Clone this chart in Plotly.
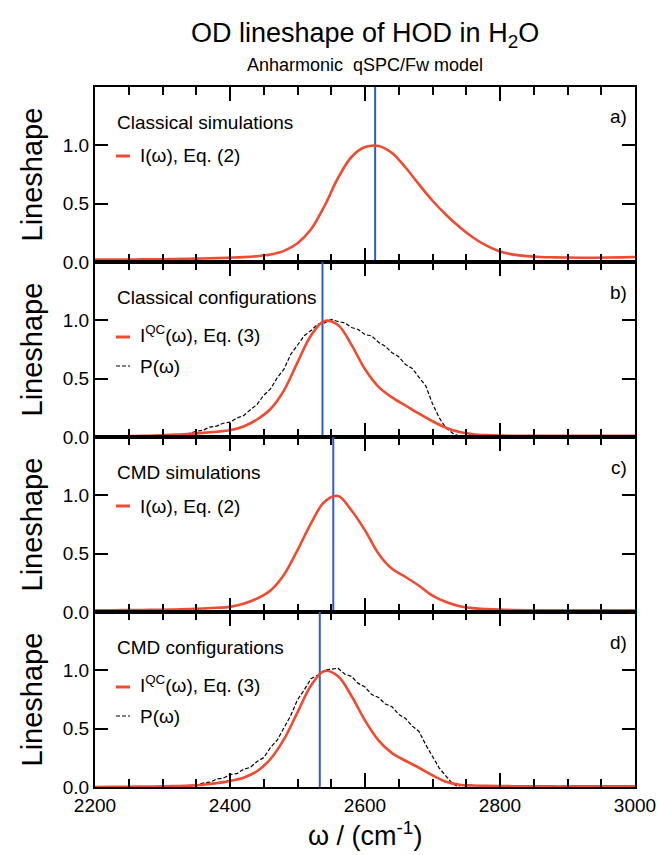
import plotly.graph_objects as go
from plotly.subplots import make_subplots

# ---------------- data ----------------
w_grid = [2200 + 20 * k for k in range(41)]  # 2200 ... 3000 cm-1

# panel a) classical simulations, I(w)
a_y = [0.020, 0.020, 0.021, 0.022, 0.023, 0.024, 0.026, 0.028, 0.030, 0.033, 0.037,
       0.042, 0.050, 0.064, 0.095, 0.160, 0.280, 0.480, 0.720, 0.900, 0.985, 0.995,
       0.935, 0.810, 0.665, 0.525, 0.405, 0.300, 0.210, 0.140, 0.090, 0.063, 0.050,
       0.043, 0.040, 0.038, 0.037, 0.037, 0.038, 0.040, 0.043]

# panel b) classical configurations, I^QC(w)
b_y = [0.005, 0.006, 0.007, 0.009, 0.011, 0.015, 0.020, 0.027, 0.035, 0.045, 0.058,
       0.090, 0.150, 0.240, 0.400, 0.640, 0.870, 0.995, 0.960, 0.790, 0.580, 0.430,
       0.340, 0.270, 0.200, 0.135, 0.080, 0.042, 0.024, 0.016, 0.012, 0.011, 0.010,
       0.010, 0.010, 0.010, 0.010, 0.010, 0.010, 0.010, 0.010]

# panel c) CMD simulations, I(w)
c_y = [0.014, 0.015, 0.016, 0.017, 0.018, 0.019, 0.022, 0.025, 0.030, 0.036, 0.044,
       0.070, 0.115, 0.185, 0.320, 0.530, 0.760, 0.945, 0.995, 0.870, 0.700, 0.500,
       0.370, 0.300, 0.225, 0.140, 0.085, 0.050, 0.033, 0.025, 0.020, 0.017, 0.015,
       0.015, 0.015, 0.015, 0.015, 0.015, 0.015, 0.015, 0.015]

# panel d) CMD configurations, I^QC(w)
d_y = [0.000, 0.001, 0.002, 0.003, 0.004, 0.005, 0.008, 0.012, 0.020, 0.033, 0.052,
       0.080, 0.135, 0.240, 0.410, 0.640, 0.870, 0.995, 0.950, 0.780, 0.570, 0.400,
       0.290, 0.225, 0.165, 0.100, 0.045, 0.020, 0.013, 0.010, 0.008, 0.007, 0.006,
       0.006, 0.005, 0.005, 0.005, 0.005, 0.005, 0.005, 0.005]

# panel b) P(w)
pb_x = [2300, 2310, 2320, 2330, 2340, 2350, 2360, 2370, 2380, 2390, 2400, 2410, 2420, 2430,
        2440, 2450, 2460, 2470, 2480, 2490, 2500, 2510, 2520, 2530, 2540, 2550, 2560, 2570,
        2580, 2590, 2600, 2610, 2620, 2630, 2640, 2650, 2660, 2670, 2680, 2690, 2700, 2710,
        2720, 2730, 2740, 2750]
pb_y = [0.004, 0.012, 0.014, 0.027, 0.031, 0.049, 0.058, 0.085, 0.093, 0.118, 0.127, 0.162,
        0.183, 0.232, 0.278, 0.358, 0.412, 0.508, 0.582, 0.708, 0.783, 0.868, 0.912, 0.968,
        0.978, 1.008, 0.990, 0.978, 0.938, 0.922, 0.878, 0.866, 0.812, 0.778, 0.722, 0.688,
        0.622, 0.588, 0.512, 0.438, 0.285, 0.165, 0.077, 0.032, 0.006, 0.000]

# panel d) P(w)
pd_x = [2330, 2340, 2350, 2360, 2370, 2380, 2390, 2400, 2410, 2420, 2430, 2440, 2450, 2460,
        2470, 2480, 2490, 2500, 2510, 2520, 2530, 2540, 2550, 2560, 2570, 2580, 2590, 2600,
        2610, 2620, 2630, 2640, 2650, 2660, 2670, 2680, 2690, 2700, 2710, 2720, 2730, 2740]
pd_y = [0.000, 0.009, 0.015, 0.034, 0.041, 0.068, 0.076, 0.106, 0.114, 0.152, 0.168, 0.218,
        0.252, 0.338, 0.402, 0.508, 0.612, 0.748, 0.832, 0.928, 0.958, 1.002, 1.008, 1.018,
        0.968, 0.948, 0.888, 0.858, 0.792, 0.768, 0.712, 0.688, 0.622, 0.588, 0.522, 0.476,
        0.362, 0.268, 0.162, 0.094, 0.026, 0.000]

# blue reference lines (peak positions)
peak_pos = [2615, 2537, 2553, 2533]

panel_titles = ["Classical simulations", "Classical configurations",
                "CMD simulations", "CMD configurations"]
panel_letters = ["a)", "b)", "c)", "d)"]
red_names = ["I(ω), Eq. (2)", "I<sup>QC</sup>(ω), Eq. (3)",
             "I(ω), Eq. (2)", "I<sup>QC</sup>(ω), Eq. (3)"]
x_ticks = [2200, 2400, 2600, 2800, 3000]
y_ticks = [0.0, 0.5, 1.0]
y_ticktext = ["0.0", "0.5", "1.0"]

RED = "#f04b30"
BLUE = "#2f5fc4"
FONT = "Liberation Sans, Arial, Helvetica, sans-serif"

fig = make_subplots(rows=4, cols=1, shared_xaxes=True, vertical_spacing=0)

red_curves = [a_y, b_y, c_y, d_y]
p_curves = {2: (pb_x, pb_y), 4: (pd_x, pd_y)}

for i in range(4):
    row = i + 1
    fig.add_trace(go.Scatter(x=[peak_pos[i], peak_pos[i]], y=[0, 1.5], mode="lines",
                             line=dict(color=BLUE, width=2), showlegend=False,
                             hoverinfo="skip"), row=row, col=1)
    if row in p_curves:
        px_, py_ = p_curves[row]
        fig.add_trace(go.Scatter(x=px_, y=py_, mode="lines", name="P(ω)",
                                 line=dict(color="black", width=1.2, dash="4px,2px"),
                                 showlegend=False), row=row, col=1)
    fig.add_trace(go.Scatter(x=w_grid, y=red_curves[i], mode="lines", name=red_names[i],
                             line=dict(color=RED, width=2.6, shape="spline", smoothing=1.0),
                             showlegend=False), row=row, col=1)

axis_common = dict(showline=True, linecolor="black", linewidth=2, mirror="ticks",
                   ticks="inside", tickcolor="black", tickwidth=2, showgrid=False,
                   zeroline=False, automargin=False,
                   tickfont=dict(family=FONT, size=19, color="black"))

for row in range(1, 5):
    fig.update_xaxes(range=[2200, 3000], tickvals=x_ticks, ticklen=14,
                     ticklabeloverflow="allow",
                     minor=dict(dtick=50, tick0=2200, ticklen=8, tickwidth=2,
                                ticks="inside", tickcolor="black", showgrid=False),
                     row=row, col=1, **axis_common)
    fig.update_yaxes(range=[0, 1.5], tickvals=y_ticks, ticktext=y_ticktext, ticklen=13,
                     row=row, col=1, **axis_common)

annotations = []
shapes = []
PLOT_TOP = 87
PLOT_H = 700
PLOT_L = 95
PLOT_W = 540


def py(pix):
    return (PLOT_TOP + PLOT_H - pix) / PLOT_H


def pxx(pix):
    return (pix - PLOT_L) / PLOT_W


for i in range(4):
    top = PLOT_TOP + 175 * i
    annotations.append(dict(text=panel_titles[i], x=pxx(115), y=py(top + 35), xref="paper",
                            yref="paper", xanchor="left", yanchor="middle", showarrow=False,
                            font=dict(family=FONT, size=19, color="black")))
    annotations.append(dict(text=panel_letters[i], x=pxx(629), y=py(top + 30), xref="paper",
                            yref="paper", xanchor="right", yanchor="middle", showarrow=False,
                            font=dict(family=FONT, size=19, color="black")))
    annotations.append(dict(text="Lineshape", x=0, y=py(top + 87.5), xref="paper",
                            yref="paper", xanchor="center", yanchor="middle", xshift=-64,
                            textangle=-90, showarrow=False,
                            font=dict(family=FONT, size=29, color="black")))
    if i in (0, 2):
        ey = top + 69
        shapes.append(dict(type="line", xref="paper", yref="paper", x0=pxx(116), x1=pxx(130),
                           y0=py(ey), y1=py(ey), line=dict(color=RED, width=3)))
        annotations.append(dict(text=red_names[i], x=pxx(138), y=py(ey), xref="paper",
                                yref="paper", xanchor="left", yanchor="middle",
                                showarrow=False,
                                font=dict(family=FONT, size=19, color="black")))
    else:
        ey = top + 75
        shapes.append(dict(type="line", xref="paper", yref="paper", x0=pxx(116), x1=pxx(130),
                           y0=py(ey), y1=py(ey), line=dict(color=RED, width=3)))
        annotations.append(dict(text=red_names[i], x=pxx(138), y=py(ey), xref="paper",
                                yref="paper", xanchor="left", yanchor="middle",
                                showarrow=False, yshift=3,
                                font=dict(family=FONT, size=19, color="black")))
        ey2 = top + 104
        shapes.append(dict(type="line", xref="paper", yref="paper", x0=pxx(116), x1=pxx(130),
                           y0=py(ey2), y1=py(ey2),
                           line=dict(color="black", width=1.2, dash="4px,2px")))
        annotations.append(dict(text="P(ω)", x=pxx(138), y=py(ey2), xref="paper",
                                yref="paper", xanchor="left", yanchor="middle",
                                showarrow=False,
                                font=dict(family=FONT, size=19, color="black")))

annotations.append(dict(text="OD lineshape of HOD in H<sub>2</sub>O", x=0.5, y=py(35),
                        xref="paper", yref="paper", xanchor="center", yanchor="middle",
                        showarrow=False, font=dict(family=FONT, size=27, color="black")))
annotations.append(dict(text="Anharmonic  qSPC/Fw model", x=0.5, y=py(65), xref="paper",
                        yref="paper", xanchor="center", yanchor="middle", showarrow=False,
                        font=dict(family=FONT, size=18, color="black")))
annotations.append(dict(text="ω / (cm<sup>-1</sup>)", x=0.5, y=py(834), xref="paper",
                        yref="paper", xanchor="center", yanchor="middle", showarrow=False,
                        font=dict(family=FONT, size=27, color="black")))

fig.update_layout(width=657, height=855, margin=dict(l=95, r=22, t=87, b=68),
                  plot_bgcolor="white", paper_bgcolor="white", showlegend=False,
                  annotations=annotations, shapes=shapes,
                  font=dict(family=FONT, color="black"))

# remove the browser's default 8px page margin (and any scrollbars) so the
# fixed-size figure fills the 657x855 window exactly
fig.write_html("out.html",
               config={"displayModeBar": False, "responsive": False},
               post_script="document.body.style.margin='0';"
                           "document.body.style.overflow='hidden';"
                           "document.documentElement.style.overflow='hidden';")
